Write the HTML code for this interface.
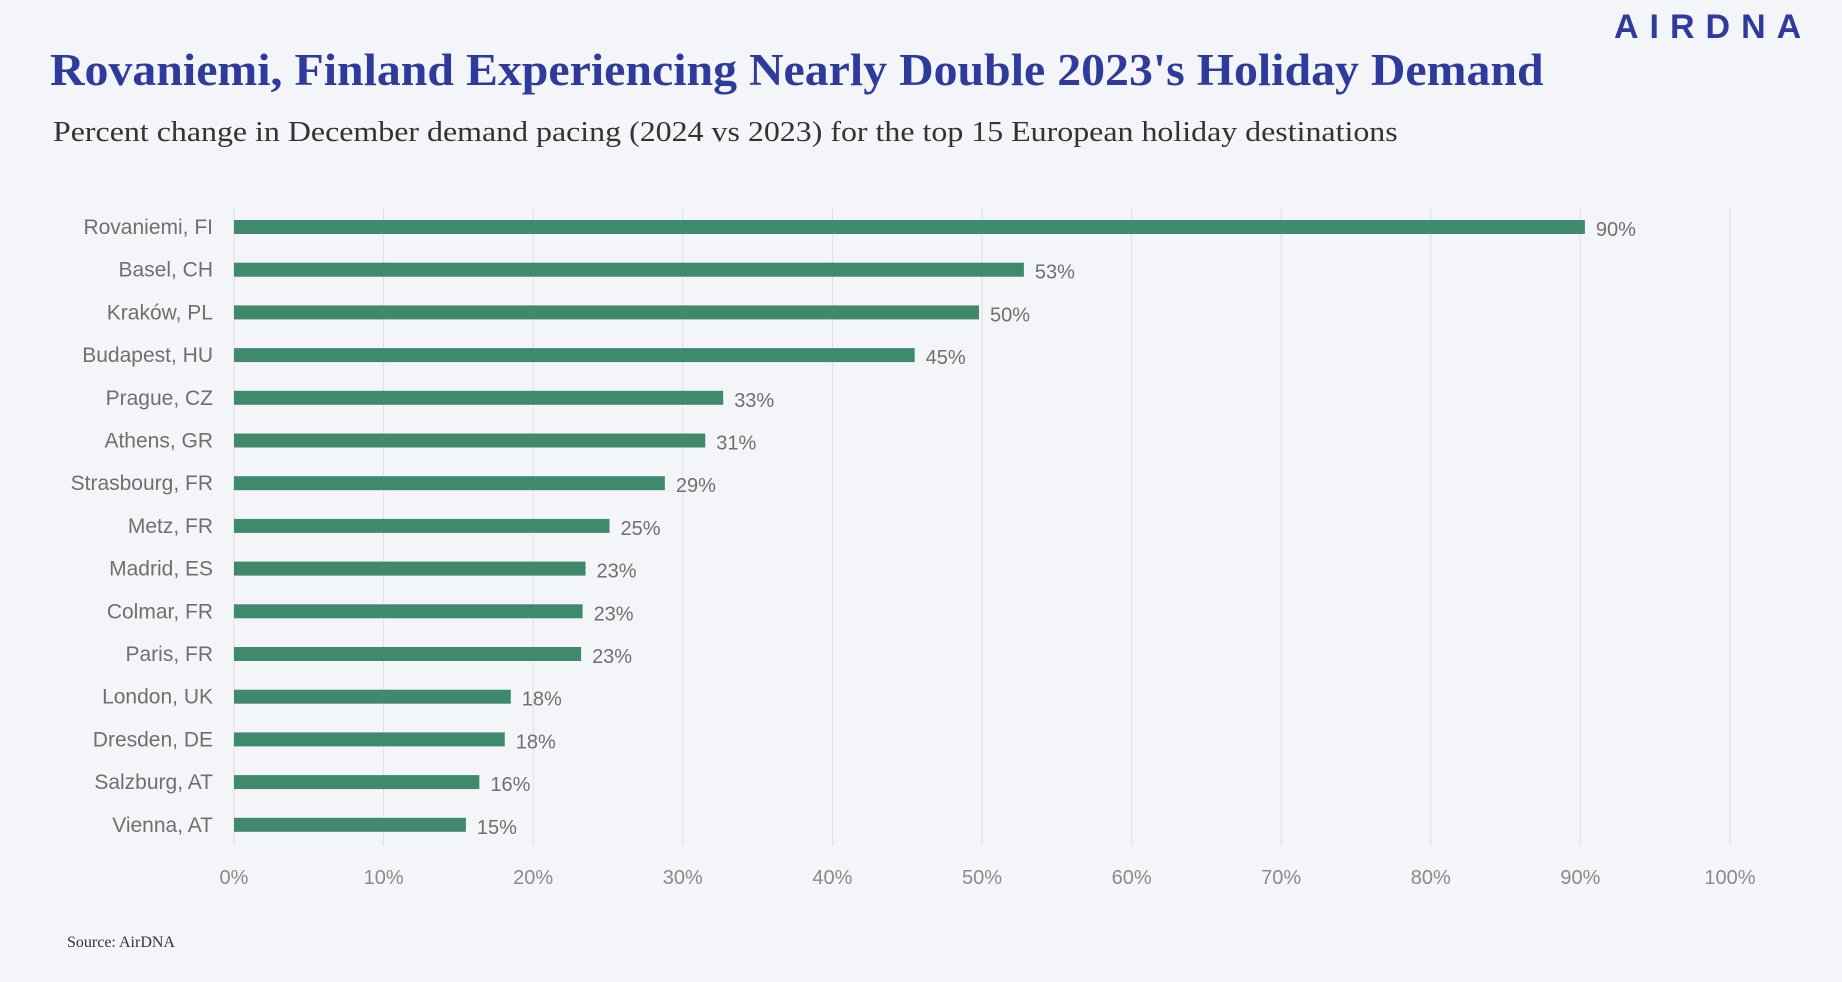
<!DOCTYPE html>
<html><head><meta charset="utf-8"><style>
html,body{margin:0;padding:0;background:#f4f5f8;}
body{width:1842px;height:982px;position:relative;overflow:hidden;font-family:"Liberation Sans",sans-serif;}
#title{position:absolute;left:50px;top:44px;font:bold 45px "Liberation Serif",serif;color:#2f3b9c;white-space:nowrap;transform:scaleX(1.063);transform-origin:left top;}
#subtitle{position:absolute;left:53px;top:117px;font:28px "Liberation Serif",serif;color:#333;white-space:nowrap;transform:scaleX(1.14);transform-origin:left top;}
#logo{position:absolute;left:1614px;top:8px;font:bold 34px "Liberation Sans",sans-serif;color:#2f3b9c;letter-spacing:11px;}
#source{position:absolute;left:67px;top:934px;font:16px "Liberation Serif",serif;color:#333;}
svg{position:absolute;left:0;top:0;}
</style></head><body>
<div id="logo">AIRDNA</div>
<div id="title">Rovaniemi, Finland Experiencing Nearly Double 2023's Holiday Demand</div>
<div id="subtitle">Percent change in December demand pacing (2024 vs 2023) for the top 15 European holiday destinations</div>
<svg id="chart" width="1842" height="982"></svg>
<div id="source">Source: AirDNA</div>
<script>
const categories=["Rovaniemi, FI","Basel, CH","Kraków, PL","Budapest, HU","Prague, CZ","Athens, GR","Strasbourg, FR","Metz, FR","Madrid, ES","Colmar, FR","Paris, FR","London, UK","Dresden, DE","Salzburg, AT","Vienna, AT"];
const values=[90.3,52.8,49.8,45.5,32.7,31.5,28.8,25.1,23.5,23.3,23.2,18.5,18.1,16.4,15.5];
const valueLabels=["90%","53%","50%","45%","33%","31%","29%","25%","23%","23%","23%","18%","18%","16%","15%"];
const tickValues=[0,10,20,30,40,50,60,70,80,90,100];
const tickLabels=["0%","10%","20%","30%","40%","50%","60%","70%","80%","90%","100%"];
const NS="http://www.w3.org/2000/svg";
const svg=document.getElementById('chart');
const x0=234,x1=1730,yTop=227,yStep=42.7;
const xs=v=>x0+(x1-x0)*v/100;
const ys=i=>yTop+i*yStep;
function mk(t,a){const e=document.createElementNS(NS,t);for(const k in a)e.setAttribute(k,a[k]);svg.appendChild(e);return e;}
tickValues.forEach((v,i)=>{
 const g=mk('line',{x1:xs(v),x2:xs(v),y1:208,y2:846,stroke:'#dfe0e4','stroke-width':1});
 
 
 const t=mk('text',{x:xs(v),y:884,'text-anchor':'middle','font-size':20,fill:'#8a8a8a','font-family':'Liberation Sans, sans-serif'});
 t.textContent=tickLabels[i];
 
 
});
categories.forEach((c,i)=>{
 const y=ys(i);
 const l=mk('text',{x:213,y:y+7,'text-anchor':'end','font-size':21,fill:'#6f6f6f','font-family':'Liberation Sans, sans-serif'});
 l.textContent=c;
 
 
 const b=mk('rect',{x:x0,y:y-7,width:xs(values[i])-x0,height:14,fill:'#3f8a6c'});
 
 
 const v=mk('text',{x:xs(values[i])+11,y:y+9,'font-size':20,fill:'#6f6f6f','font-family':'Liberation Sans, sans-serif'});
 v.textContent=valueLabels[i];
 
 
});
</script>
</body></html>
